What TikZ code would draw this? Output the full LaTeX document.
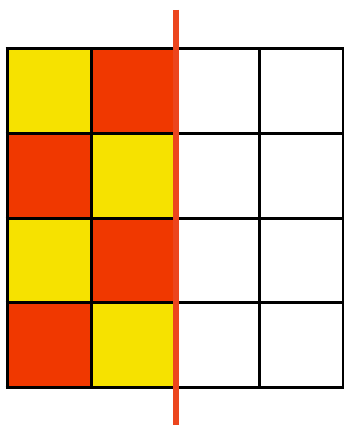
\documentclass[tikz,border=0pt]{standalone}
\definecolor{cellred}{RGB}{240,56,0}
\definecolor{cellyellow}{RGB}{246,226,0}
\definecolor{cutred}{RGB}{236,70,30}
\tikzset{
  cell/.style={draw=black,line width=3pt},
  cut/.style={draw=cutred,line width=5.5pt}
}
\begin{document}
\begin{tikzpicture}[x=1pt,y=-1pt]
\useasboundingbox (0,0) rectangle (344,427);
\fill[white] (0,0) rectangle (344,427);
% fills
\def\cw{84}\def\ch{84.5}
\foreach \r/\c/\col in {0/0/cellyellow,0/1/cellred,1/0/cellred,1/1/cellyellow,2/0/cellyellow,2/1/cellred,3/0/cellred,3/1/cellyellow}{
  \fill[\col] ({7+\c*\cw},{49+\r*\ch}) rectangle ({7+(\c+1)*\cw},{49+(\r+1)*\ch});
}
% grid
\foreach \i in {0,...,4}{
  \draw[cell] ({7+\i*\cw},49) -- ({7+\i*\cw},387);
  \draw[cell] (5.5,{49+\i*\ch}) -- (344.5,{49+\i*\ch});
}
% cut line
\coordinate (top) at (176,10);
\coordinate (bot) at (176,425);
\draw[cut] (top) -- (bot);
\end{tikzpicture}
\end{document}
